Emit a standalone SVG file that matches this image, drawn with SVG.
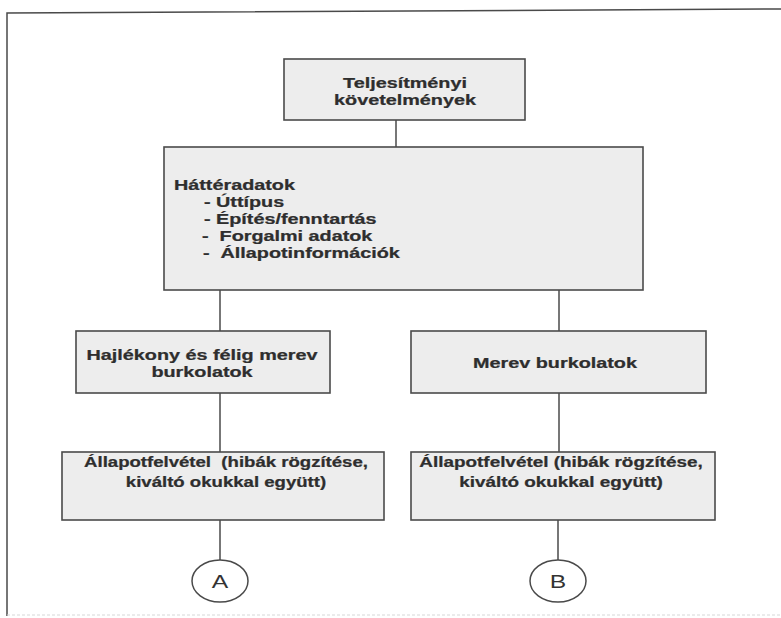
<svg xmlns="http://www.w3.org/2000/svg" width="781" height="618" viewBox="0 0 781 618">
<style>
.box{fill:#ededed;stroke:#4a4a4a;stroke-width:1.6}
.ln{stroke:#4a4a4a;stroke-width:1.5;fill:none}
.t{font-family:"Liberation Sans",Arial,sans-serif;font-weight:bold;font-size:15px;fill:#2e2e2e;stroke:#2e2e2e;stroke-width:0.25}
.c{text-anchor:middle}
.circ{fill:#ffffff;stroke:#4a4a4a;stroke-width:1.5}
.ct{font-family:"Liberation Sans",Arial,sans-serif;font-size:19px;fill:#333;text-anchor:middle}
</style>
<rect x="0" y="0" width="781" height="618" fill="#ffffff"/>
<g id="frame">
<path class="ln" d="M7,616 L7,13 L781,9"/>
<line x1="7" y1="615" x2="781" y2="615" stroke="#d8d8d8" stroke-width="1.2" stroke-dasharray="3 2"/>
</g>
<g id="connectors">
<line class="ln" x1="396" y1="120" x2="396" y2="147"/>
<line class="ln" x1="220" y1="290" x2="220" y2="331"/>
<line class="ln" x1="559" y1="290" x2="559" y2="331"/>
<line class="ln" x1="220" y1="393" x2="220" y2="452"/>
<line class="ln" x1="559" y1="393" x2="559" y2="452"/>
<line class="ln" x1="220" y1="520" x2="220" y2="560"/>
<line class="ln" x1="558" y1="520" x2="558" y2="560"/>
</g>
<g id="n-teljesitmeny">
<rect class="box" x="284" y="59" width="241" height="61"/>
<text class="t c" transform="translate(405,88) scale(1.32,1)">Teljesítményi</text>
<text class="t c" transform="translate(405,105) scale(1.32,1)">követelmények</text>
</g>
<g id="n-hatteradatok">
<rect class="box" x="164" y="147" width="479" height="143"/>
<text class="t" transform="translate(174,190) scale(1.32,1)">Háttéradatok</text>
<text class="t" transform="translate(204,207) scale(1.32,1)" xml:space="preserve">- Úttípus</text>
<text class="t" transform="translate(204,224) scale(1.32,1)" xml:space="preserve">- Építés/fenntartás</text>
<text class="t" transform="translate(202,241) scale(1.32,1)" xml:space="preserve">-  Forgalmi adatok</text>
<text class="t" transform="translate(203,258) scale(1.32,1)" xml:space="preserve">-  Állapotinformációk</text>
</g>
<g id="n-hajlekony">
<rect class="box" x="76" y="331" width="254" height="62"/>
<text class="t c" transform="translate(202,360) scale(1.32,1)">Hajlékony és félig merev</text>
<text class="t c" transform="translate(202,377) scale(1.32,1)">burkolatok</text>
</g>
<g id="n-merev">
<rect class="box" x="411" y="331" width="295" height="62"/>
<text class="t c" transform="translate(555,368) scale(1.32,1)">Merev burkolatok</text>
</g>
<g id="n-allapot-a">
<rect class="box" x="62" y="452" width="322" height="68"/>
<text class="t c" transform="translate(226,467) scale(1.24,1)" xml:space="preserve">Állapotfelvétel  (hibák rögzítése,</text>
<text class="t c" transform="translate(226,487) scale(1.24,1)">kiváltó okukkal együtt)</text>
</g>
<g id="n-allapot-b">
<rect class="box" x="411" y="452" width="304" height="68"/>
<text class="t c" transform="translate(561,467) scale(1.26,1)">Állapotfelvétel (hibák rögzítése,</text>
<text class="t c" transform="translate(561,487) scale(1.26,1)">kiváltó okukkal együtt)</text>
</g>
<g id="n-a">
<ellipse class="circ" cx="220" cy="581" rx="28" ry="21"/>
<text class="ct" transform="translate(220,588) scale(1.3,1)">A</text>
</g>
<g id="n-b">
<ellipse class="circ" cx="558" cy="581" rx="28" ry="21"/>
<text class="ct" transform="translate(558,588) scale(1.3,1)">B</text>
</g>
</svg>
